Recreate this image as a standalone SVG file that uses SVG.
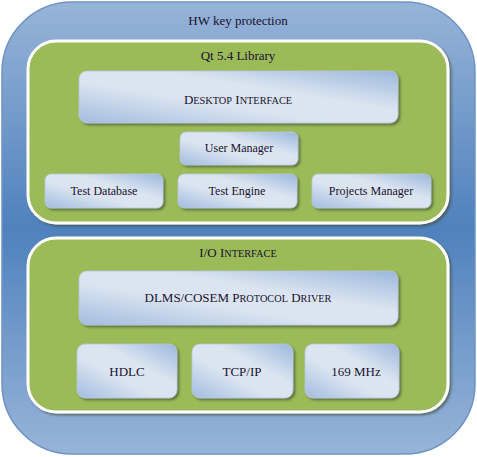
<svg xmlns="http://www.w3.org/2000/svg" width="477" height="457" viewBox="0 0 477 457">
<defs>
<linearGradient id="outerG" x1="0" y1="0" x2="0" y2="1">
<stop offset="0" stop-color="#97b4d8"/>
<stop offset="0.5" stop-color="#4f81bd"/>
<stop offset="1" stop-color="#97b4d8"/>
</linearGradient>
<linearGradient id="nodeG" x1="0" y1="1" x2="1" y2="0">
<stop offset="0" stop-color="#a3bcdf"/>
<stop offset="0.4" stop-color="#dbe5f1"/>
<stop offset="0.62" stop-color="#dbe5f1"/>
<stop offset="1" stop-color="#9cb7dc"/>
</linearGradient>
<filter id="sh" x="-10%" y="-10%" width="130%" height="140%">
<feDropShadow dx="2" dy="2" stdDeviation="0.8" flood-color="#3a4a2a" flood-opacity="0.6"/>
</filter>
</defs>
<style>
.lbl{font-family:"Liberation Serif","Times New Roman",serif;font-size:12px;fill:#1a1030;text-anchor:middle}
.big{font-size:13px}
.s{font-size:10.3px}
.grp{fill:#9bbb59;stroke:#ffffff;stroke-width:3;filter:url(#sh)}
.node{fill:url(#nodeG);stroke:#b8c8dc;stroke-width:0.8;filter:url(#sh)}
</style>
<g id="hw">
<rect x="2" y="2" width="473" height="452" rx="70" ry="70" fill="url(#outerG)" stroke="#6f92c4" stroke-width="1.5"/>
<text class="lbl big" x="238" y="25">HW key protection</text>
</g>
<g id="qt">
<rect class="grp" x="28" y="41" width="420" height="182" rx="28" ry="28"/>
<text class="lbl big" x="238" y="60">Qt 5.4 Library</text>
</g>
<g id="desktop">
<rect class="node" x="79" y="71" width="319" height="52" rx="8" ry="8"/>
<text class="lbl big" x="238" y="104">D<tspan class="s">ESKTOP</tspan> I<tspan class="s">NTERFACE</tspan></text>
</g>
<g id="user">
<rect class="node" x="180" y="132" width="118" height="33" rx="6" ry="6"/>
<text class="lbl" x="239" y="152">User Manager</text>
</g>
<g id="testdb">
<rect class="node" x="45" y="174" width="118" height="34" rx="6" ry="6"/>
<text class="lbl" x="104" y="195">Test Database</text>
</g>
<g id="engine">
<rect class="node" x="178" y="174" width="119" height="34" rx="6" ry="6"/>
<text class="lbl" x="237" y="195">Test Engine</text>
</g>
<g id="projects">
<rect class="node" x="312" y="174" width="119" height="34" rx="6" ry="6"/>
<text class="lbl" x="371" y="195">Projects Manager</text>
</g>
<g id="io">
<rect class="grp" x="28" y="238" width="420" height="174" rx="28" ry="28"/>
<text class="lbl big" x="238" y="257">I/O I<tspan class="s">NTERFACE</tspan></text>
</g>
<g id="dlms">
<rect class="node" x="79" y="271" width="319" height="54" rx="8" ry="8"/>
<text class="lbl big" x="238" y="302">DLMS/COSEM P<tspan class="s">ROTOCOL</tspan> D<tspan class="s">RIVER</tspan></text>
</g>
<g id="hdlc">
<rect class="node" x="77" y="344" width="100" height="54" rx="8" ry="8"/>
<text class="lbl big" x="127" y="376">HDLC</text>
</g>
<g id="tcp">
<rect class="node" x="192" y="344" width="101" height="54" rx="8" ry="8"/>
<text class="lbl big" x="242" y="376">TCP/IP</text>
</g>
<g id="mhz">
<rect class="node" x="305" y="344" width="94" height="54" rx="8" ry="8"/>
<text class="lbl big" x="356" y="376">169 MHz</text>
</g>
<g id="connectors"/>
</svg>
